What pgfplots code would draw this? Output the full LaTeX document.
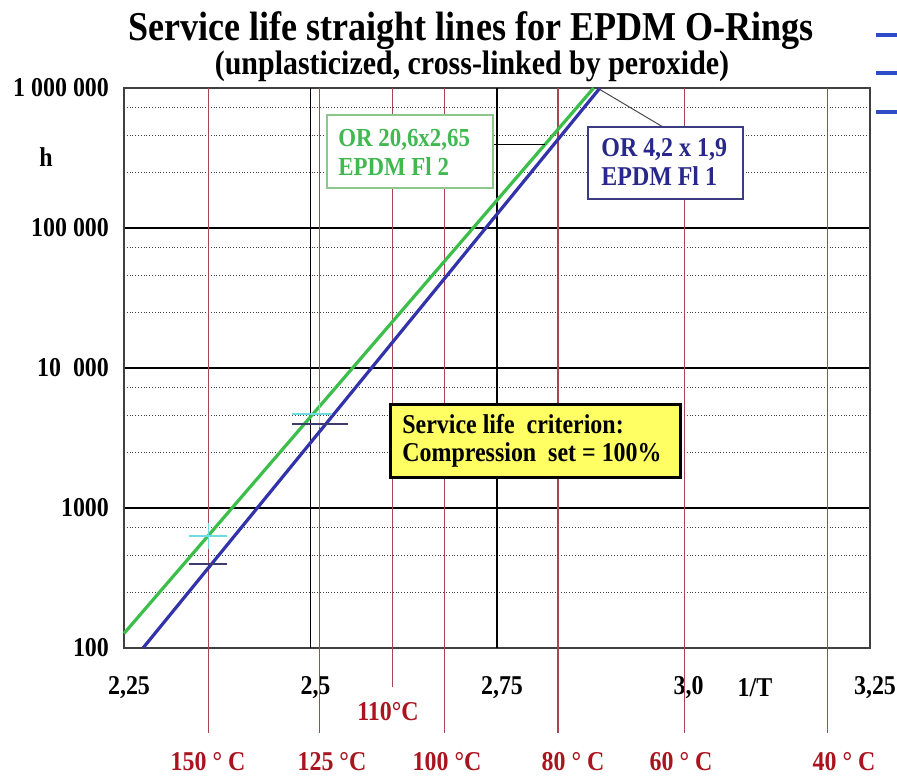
\documentclass[border=0pt]{standalone}
\usepackage{pgfplots}
\pgfplotsset{compat=1.18}
\usetikzlibrary{plotmarks}
\usepackage{fontspec}
\setmainfont{Liberation Serif}[FakeStretch=0.88]
\definecolor{gline}{RGB}{60,190,75}
\definecolor{bline}{RGB}{50,50,170}
\definecolor{tred}{RGB}{170,20,30}
\definecolor{lred}{RGB}{165,70,80}
\definecolor{gtext}{RGB}{65,185,80}
\definecolor{gborder}{RGB}{140,200,140}
\definecolor{btext}{RGB}{40,40,140}
\definecolor{bborder}{RGB}{60,60,130}
\definecolor{ybox}{RGB}{255,255,100}
\definecolor{cyanm}{RGB}{110,220,225}
\definecolor{navym}{RGB}{60,60,110}
\definecolor{fragblue}{RGB}{46,75,200}

\begin{document}
\begin{tikzpicture}[font=\bfseries]
\path[use as bounding box] (0,0) rectangle (448.5pt,-388pt);
\begin{axis}[
  at={(62pt,-324pt)}, anchor=south west,
  scale only axis, width=373pt, height=280pt,
  xmin=2.25, xmax=3.25, ymode=log, ymin=100, ymax=1000000,
  clip=false,
  axis line style={draw=black!75, line width=1pt},
  xtick={2.25,2.5,2.75,3.0,3.25},
  xticklabels={{2,25},{2,5},{2,75},{3,0},{3,25}},
  ytick={100,1000,10000,100000,1000000},
  yticklabels={{100},{1000},{10\ \ 000},{100 000},{1 000 000}},
  minor ytick={250,460,730,2500,4600,7300,25000,46000,73000,250000,460000,730000},
  ymajorgrids, yminorgrids,
  major grid style={black, line width=0.7pt},
  minor grid style={black!75, densely dotted, line width=0.5pt},
  tick style={draw=none},
  ticklabel style={font=\bfseries\fontsize{13.6}{15}\selectfont},
  xticklabel style={yshift=-10.5pt, xshift=2.5pt},
  yticklabel style={xshift=-4pt},
]
% black vertical grid lines
\addplot[black, line width=0.7pt] coordinates {(2.5,100) (2.5,1000000)};
\addplot[black, line width=0.7pt] coordinates {(2.75,100) (2.75,1000000)};
% temperature lines (1000/T, T in K)
\addplot[lred, line width=0.6pt] coordinates {(2.3632,24.7) (2.3632,1000000)}; % 150 C
\addplot[lred, line width=0.6pt] coordinates {(2.5116,24.7) (2.5116,1000000)}; % 125 C
\addplot[lred, line width=0.6pt] coordinates {(2.6099,52.6) (2.6099,1000000)}; % 110 C
\addplot[lred, line width=0.6pt] coordinates {(2.6799,24.7) (2.6799,1000000)}; % 100 C
\addplot[lred, line width=0.6pt] coordinates {(2.8317,24.7) (2.8317,1000000)}; % 80 C
\addplot[lred, line width=0.6pt] coordinates {(3.0017,24.7) (3.0017,1000000)}; % 60 C
\addplot[lred, line width=0.6pt] coordinates {(3.1934,24.7) (3.1934,1000000)}; % 40 C
% service life lines
\addplot[gline, line width=1.6pt] coordinates {(2.25,127) (2.8795,1000000)};
\addplot[bline, line width=1.6pt] coordinates {(2.2755,100) (2.888,1000000)};
% measured points
\addplot[only marks, mark=-, mark size=9.5pt, cyanm, mark options={line width=0.6pt}] coordinates {(2.3632,631)};
\addplot[only marks, mark=-, mark size=10pt, cyanm, mark options={line width=0.6pt}] coordinates {(2.502,4690)};
\addplot[only marks, mark=|, mark size=6.5pt, cyanm, mark options={line width=0.6pt}] coordinates {(2.3632,631) (2.5116,4690)};
\addplot[only marks, mark=-, mark size=9.5pt, navym, mark options={line width=0.6pt}] coordinates {(2.3632,398)};
\addplot[only marks, mark=-, mark size=14pt, navym, mark options={line width=0.6pt}] coordinates {(2.5127,3981)};
\end{axis}

% titles
\node[anchor=base, font=\bfseries\fontsize{20.5}{22}\selectfont] at (235.5pt,-20pt) {Service life straight lines for EPDM O-Rings};
\node[anchor=base, font=\bfseries\fontsize{17}{19}\selectfont] at (236pt,-37pt) {(unplasticized, cross-linked by peroxide)};

% axis texts
\node[anchor=base, font=\bfseries\fontsize{13.6}{15}\selectfont] at (23pt,-83pt) {h};
\node[anchor=base, font=\bfseries\fontsize{13.6}{15}\selectfont] at (377.5pt,-348pt) {1/T};
\node[anchor=base, text=tred, font=\bfseries\fontsize{13.6}{15}\selectfont] at (194pt,-360pt) {110°C};
\begin{scope}[every node/.style={anchor=base, text=tred, font=\bfseries\fontsize{13.6}{15}\selectfont}]
\node at (104pt,-385pt) {150 ° C};
\node at (166pt,-385pt) {125 °C};
\node at (223.5pt,-385pt) {100 °C};
\node at (286.5pt,-385pt) {80 ° C};
\node at (340.5pt,-385pt) {60 ° C};
\node at (422pt,-385pt) {40 ° C};
\end{scope}

% green annotation
\draw[black, line width=0.5pt] (246.5pt,-72pt) -- (272.5pt,-72pt);
\draw[fill=white, draw=gborder, line width=0.6pt] (163.5pt,-57.5pt) rectangle (246.5pt,-94pt);
\node[anchor=base west, inner sep=0pt, text=gtext, font=\bfseries\fontsize{13}{14}\selectfont] at (169pt,-73pt) {OR 20,6x2,65};
\node[anchor=base west, inner sep=0pt, text=gtext, font=\bfseries\fontsize{13}{14}\selectfont] at (169pt,-87.5pt) {EPDM Fl 2};

% blue annotation
\draw[black!70, line width=0.5pt] (299.5pt,-44.5pt) -- (331.5pt,-63.5pt);
\draw[fill=white, draw=bborder, line width=0.7pt] (294pt,-63.5pt) rectangle (371.5pt,-99.5pt);
\node[anchor=base west, inner sep=0pt, text=btext, font=\bfseries\fontsize{13.6}{15}\selectfont] at (300.5pt,-78pt) {OR 4,2 x 1,9};
\node[anchor=base west, inner sep=0pt, text=btext, font=\bfseries\fontsize{13.6}{15}\selectfont] at (300.5pt,-92.5pt) {EPDM Fl 1};

% yellow criterion box
\draw[fill=ybox, draw=black, line width=1.5pt] (195pt,-202pt) rectangle (340pt,-238.5pt);
\node[anchor=base west, inner sep=0pt, font=\bfseries\fontsize{13.6}{15}\selectfont] at (201pt,-216.5pt) {Service life\ \ criterion:};
\node[anchor=base west, inner sep=0pt, font=\bfseries\fontsize{13.6}{15}\selectfont] at (201pt,-230.5pt) {Compression\ \ set = 100\%};

% fragments at right edge
\draw[fragblue, line width=2pt] (438pt,-17.5pt) -- (448.5pt,-17.5pt);
\draw[fragblue, line width=2pt] (438pt,-36.5pt) -- (448.5pt,-36.5pt);
\draw[fragblue, line width=2pt] (438pt,-56pt) -- (448.5pt,-56pt);
\end{tikzpicture}
\end{document}
